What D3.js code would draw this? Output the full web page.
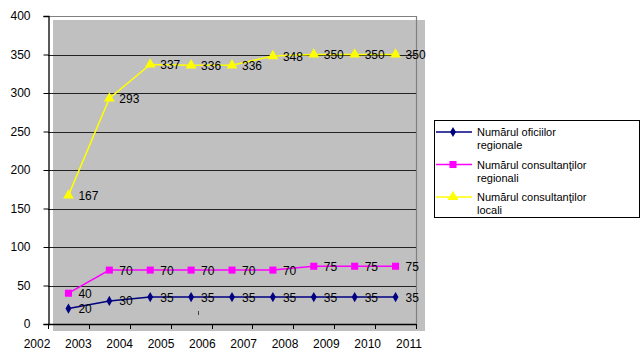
<!DOCTYPE html>
<html>
  <head>
    <meta charset="utf-8" />
    <script src="https://d3js.org/d3.v7.min.js"></script>
    <style>
      body { margin: 0; background: #fff; }
      text { font-family: "Liberation Sans", Arial, sans-serif; fill: #000; }
    </style>
  </head>
  <body>
    <div id="chart"></div>
    <script>
      // data
      var years = ["2003", "2004", "2005", "2006", "2007", "2008", "2009", "2010", "2011"];
      var tickLabels = ["2002", "2003", "2004", "2005", "2006", "2007", "2008", "2009", "2010", "2011"];
      var oficii = [20, 30, 35, 35, 35, 35, 35, 35, 35];
      var consRegionali = [40, 70, 70, 70, 70, 70, 75, 75, 75];
      var consLocali = [167, 293, 337, 336, 336, 348, 350, 350, 350];
      var yTicks = [0, 50, 100, 150, 200, 250, 300, 350, 400];

      var series = [
        { name: ["Numărul oficiilor", "regionale"], values: oficii, color: "#000080", symbol: d3.symbolDiamond, size: 30 },
        { name: ["Numărul consultanţilor", "regionali"], values: consRegionali, color: "#FF00FF", symbol: d3.symbolSquare, size: 50 },
        { name: ["Numărul consultanţilor", "locali"], values: consLocali, color: "#FFFF00", symbol: d3.symbolTriangle, size: 50 }
      ];

      var width = 641, height = 351;
      var pLeft = 48, pRight = 416, pTop = 16, pBottom = 324;

      var svg = d3.select("#chart").append("svg")
        .attr("width", width)
        .attr("height", height);

      var x = d3.scaleBand().domain(years).range([pLeft, pRight]);
      var xLab = d3.scalePoint().domain(tickLabels).range([37, 409]);
      var y = d3.scaleLinear().domain([0, 400]).range([pBottom, pTop]);

      // grey plot wall (slightly offset, like the original)
      svg.append("rect")
        .attr("x", pLeft + 5).attr("y", pTop + 4)
        .attr("width", pRight - pLeft + 4).attr("height", pBottom - pTop + 3)
        .attr("fill", "#C0C0C0");

      // frame top + right
      svg.append("path")
        .attr("d", "M" + pLeft + "," + (pTop + 0.5) + "H" + (pRight + 0.5) + "V" + (pBottom + 3))
        .attr("fill", "none").attr("stroke", "#808080").attr("stroke-width", 1.2);

      // grid lines
      svg.append("g").selectAll("line")
        .data(yTicks.slice(1, -1))
        .join("line")
        .attr("x1", pLeft).attr("x2", pRight)
        .attr("y1", function (d) { return Math.round(y(d)) + 0.5; })
        .attr("y2", function (d) { return Math.round(y(d)) + 0.5; })
        .attr("stroke", "#222").attr("stroke-width", 1);

      // y axis
      var yAxis = svg.append("g")
        .attr("transform", "translate(" + (pLeft + 0.5) + ",0)")
        .call(d3.axisLeft(y).tickValues(yTicks).tickSize(5).tickPadding(13));
      yAxis.select(".domain").attr("stroke", "#000").attr("stroke-width", 1.3);
      yAxis.selectAll("text").attr("font-size", 12).style("font-family", "Liberation Sans, Arial");

      // x axis line + ticks at band edges
      var edges = years.map(function (d) { return x(d); }).concat([pRight]);
      svg.append("line")
        .attr("x1", pLeft).attr("x2", pRight)
        .attr("y1", pBottom + 0.5).attr("y2", pBottom + 0.5)
        .attr("stroke", "#000").attr("stroke-width", 1.3);
      svg.append("g").selectAll("line")
        .data(edges)
        .join("line")
        .attr("x1", function (d) { return Math.round(d) + 0.5; })
        .attr("x2", function (d) { return Math.round(d) + 0.5; })
        .attr("y1", pBottom).attr("y2", pBottom + 5)
        .attr("stroke", "#000");
      svg.append("g").selectAll("text")
        .data(tickLabels)
        .join("text")
        .attr("x", function (d) { return xLab(d); })
        .attr("y", pBottom + 24)
        .attr("text-anchor", "middle")
        .attr("font-size", 12)
        .text(function (d) { return d; });

      // stray mark in the original
      svg.append("line")
        .attr("x1", 198.5).attr("x2", 198.5).attr("y1", 311).attr("y2", 315)
        .attr("stroke", "#444");

      var cx = function (d, i) { return x(years[i]) + x.bandwidth() / 2; };
      var line = d3.line().x(cx).y(function (d) { return y(d); });

      series.forEach(function (s) {
        var g = svg.append("g");
        g.append("path")
          .datum(s.values)
          .attr("d", line)
          .attr("fill", "none")
          .attr("stroke", s.color)
          .attr("stroke-width", 1.5);
        g.selectAll("path.m")
          .data(s.values)
          .join("path")
          .attr("class", "m")
          .attr("d", d3.symbol().type(s.symbol).size(s.size))
          .attr("transform", function (d, i) { return "translate(" + cx(d, i) + "," + y(d) + ")"; })
          .attr("fill", s.color);
        g.selectAll("text")
          .data(s.values)
          .join("text")
          .attr("x", function (d, i) { return cx(d, i) + 10; })
          .attr("y", function (d) { return y(d) + 4.5; })
          .attr("font-size", 12)
          .text(function (d) { return d; });
      });

      // legend
      var leg = svg.append("g");
      leg.append("rect")
        .attr("x", 434.5).attr("y", 120.5)
        .attr("width", 205).attr("height", 97)
        .attr("fill", "#fff").attr("stroke", "#000");
      series.forEach(function (s, i) {
        var ly = 132 + i * 32.5;
        leg.append("line")
          .attr("x1", 436).attr("x2", 472)
          .attr("y1", ly).attr("y2", ly)
          .attr("stroke", s.color).attr("stroke-width", 1.5);
        leg.append("path")
          .attr("d", d3.symbol().type(s.symbol).size(s.size))
          .attr("transform", "translate(453," + ly + ")")
          .attr("fill", s.color);
        s.name.forEach(function (t, j) {
          leg.append("text")
            .attr("x", 477)
            .attr("y", ly + 4 + j * 13)
            .attr("font-size", 11)
            .text(t);
        });
      });
    </script>
  </body>
</html>
